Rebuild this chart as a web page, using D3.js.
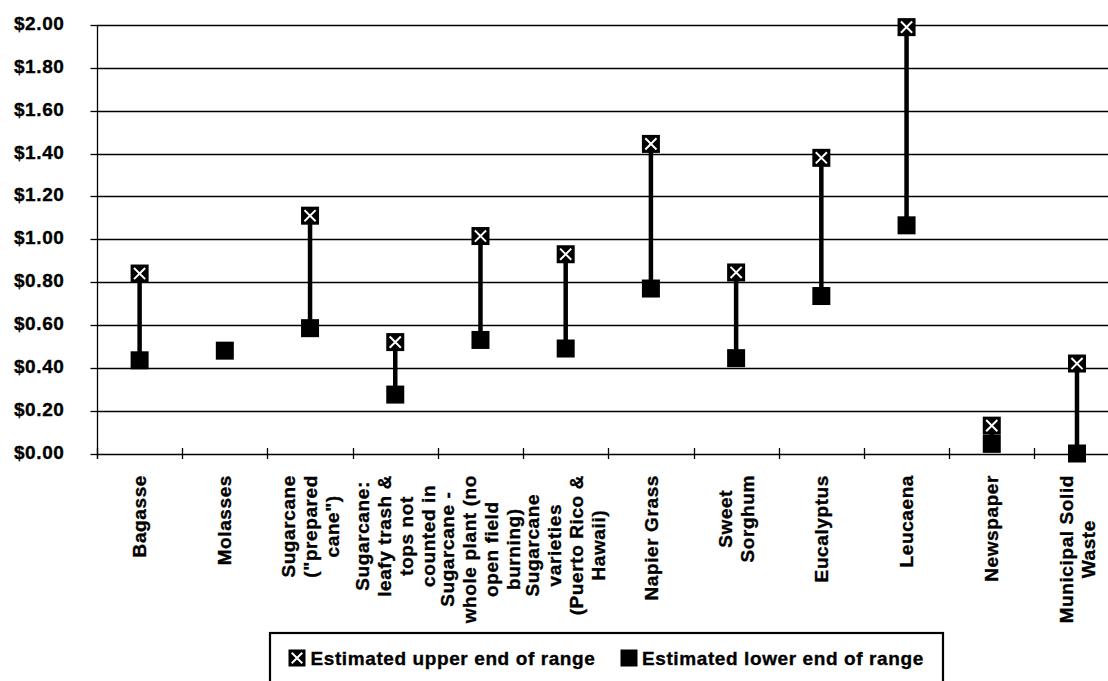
<!DOCTYPE html>
<html>
<head>
<meta charset="utf-8">
<script src="https://cdn.jsdelivr.net/npm/d3@7"></script>
<style>
  html, body { margin: 0; padding: 0; background: #fff; overflow: hidden; }
  svg { display: block; }
  text { font-family: "Liberation Sans", Arial, sans-serif; font-weight: bold; fill: #000; stroke: #000; stroke-width: 0.35px; }
</style>
</head>
<body>
<svg id="chart" width="1108" height="681"></svg>
<script>
// ---- data ----
const categories = [
  "Bagasse",
  "Molasses",
  "Sugarcane\n(\"prepared\ncane\")",
  "Sugarcane:\nleafy trash &\ntops not\ncounted in",
  "Sugarcane -\nwhole plant (no\nopen field\nburning)",
  "Sugarcane\nvarieties\n(Puerto Rico &\nHawaii)",
  "Napier Grass",
  "Sweet\nSorghum",
  "Eucalyptus",
  "Leucaena",
  "Newspaper",
  "Municipal Solid\nWaste"
];
const upperValues = [0.84, null, 1.11, 0.52, 1.015, 0.93, 1.445, 0.845, 1.38, 1.99, 0.13, 0.42];
const lowerValues = [0.435, 0.48, 0.585, 0.275, 0.53, 0.49, 0.77, 0.445, 0.735, 1.065, 0.045, 0.0];
const yTickValues = [0, 0.2, 0.4, 0.6, 0.8, 1.0, 1.2, 1.4, 1.6, 1.8, 2.0];
const seriesNames = ["Estimated upper end of range", "Estimated lower end of range"];

// ---- layout ----
const W = 1108, H = 681;
const plotLeft = 97, plotTop = 25, plotBottom = 453.5, plotRight = 1119.6;
const fontSize = 19, letterSp = 0.6;

const svg = d3.select("#chart");

const x = d3.scaleBand().domain(categories).range([plotLeft, plotRight]).padding(0);
const y = d3.scaleLinear().domain([0, 2]).range([plotBottom, plotTop]);

// gridlines
svg.append("g").selectAll("line").data(yTickValues).join("line")
  .attr("x1", plotLeft).attr("x2", W)
  .attr("y1", d => Math.round(y(d)) + 0.5).attr("y2", d => Math.round(y(d)) + 0.5)
  .attr("stroke", "#000").attr("stroke-width", 1.3);

// y axis
const yAxis = d3.axisLeft(y).tickValues(yTickValues)
  .tickFormat(d => "$" + d.toFixed(2)).tickSize(7).tickPadding(26);
const gy = svg.append("g").attr("transform", `translate(${plotLeft + 0.5},0)`).call(yAxis);
gy.select(".domain").remove();
gy.selectAll(".tick line").attr("stroke", "#000").attr("stroke-width", 1.3);
gy.selectAll(".tick").attr("transform", d => `translate(0,${Math.round(y(d)) + 0.5})`);
gy.selectAll(".tick text")
  .attr("dy", "0.23em")
  .style("font-size", fontSize + "px")
  .style("letter-spacing", letterSp + "px")
  .style("font-family", "'Liberation Sans', Arial, sans-serif")
  .style("font-weight", "bold");
// y axis line
svg.append("line")
  .attr("x1", plotLeft + 0.5).attr("x2", plotLeft + 0.5)
  .attr("y1", plotTop).attr("y2", plotBottom + 5)
  .attr("stroke", "#000").attr("stroke-width", 1.3);

// x axis category ticks (cross)
const boundaries = categories.map(c => x(c));
svg.append("g").selectAll("line").data(boundaries).join("line")
  .attr("x1", d => Math.round(d) + 0.5).attr("x2", d => Math.round(d) + 0.5)
  .attr("y1", Math.round(y(0)) - 6).attr("y2", Math.round(y(0)) + 5)
  .attr("stroke", "#000").attr("stroke-width", 1.3);

// category labels
const lineH = 22;
const labelTop = 475;
const gLab = svg.append("g");
categories.forEach(c => {
  const lines = c.split("\n");
  const cx = x(c) + x.bandwidth() / 2;
  const g = gLab.append("g").attr("transform", `translate(${cx},${labelTop}) rotate(-90)`);
  const texts = lines.map((ln, i) => g.append("text")
    .text(ln)
    .attr("y", (i - (lines.length - 1) / 2) * lineH)
    .attr("dy", "0.35em")
    .attr("text-anchor", "middle")
    .style("font-size", fontSize + "px")
    .style("letter-spacing", letterSp + "px"));
  const maxW = d3.max(texts, t => t.node().getComputedTextLength());
  texts.forEach(t => t.attr("x", -maxW / 2));
});

// data
const cxOf = i => x(categories[i]) + x.bandwidth() / 2;
const idx = d3.range(categories.length);

// high-low lines
svg.append("g").selectAll("line")
  .data(idx.filter(i => upperValues[i] != null && lowerValues[i] != null)).join("line")
  .attr("x1", i => cxOf(i)).attr("x2", i => cxOf(i))
  .attr("y1", i => y(upperValues[i])).attr("y2", i => y(lowerValues[i]))
  .attr("stroke", "#000").attr("stroke-width", 4.5);

const ms = 18;
function drawUpper(g, cx, cy, s) {
  g.append("rect").attr("x", cx - s / 2).attr("y", cy - s / 2).attr("width", s).attr("height", s).attr("fill", "#000");
  const a = s * 0.31;
  g.append("path")
    .attr("d", `M${cx - a},${cy - a}L${cx + a},${cy + a}M${cx - a},${cy + a}L${cx + a},${cy - a}`)
    .attr("stroke", "#fff").attr("stroke-width", 2).attr("fill", "none");
}
function drawLower(g, cx, cy, s) {
  g.append("rect").attr("x", cx - s / 2).attr("y", cy - s / 2).attr("width", s).attr("height", s).attr("fill", "#000");
}

const gLower = svg.append("g");
idx.filter(i => lowerValues[i] != null).forEach(i => drawLower(gLower, cxOf(i), y(lowerValues[i]), ms));
const gUpper = svg.append("g");
idx.filter(i => upperValues[i] != null).forEach(i => drawUpper(gUpper, cxOf(i), y(upperValues[i]), ms));

// legend
const lg = svg.append("g");
lg.append("rect").attr("x", 270).attr("y", 633).attr("width", 673).attr("height", 70)
  .attr("fill", "#fff").attr("stroke", "#000").attr("stroke-width", 2.2);
drawUpper(lg, 297, 658, 17);
lg.append("text").attr("x", 310.5).attr("y", 665)
  .style("font-size", fontSize + "px").style("letter-spacing", letterSp + "px").text(seriesNames[0]);
drawLower(lg, 629, 658, 17);
lg.append("text").attr("x", 642).attr("y", 665)
  .style("font-size", fontSize + "px").style("letter-spacing", letterSp + "px").text(seriesNames[1]);
</script>
</body>
</html>
